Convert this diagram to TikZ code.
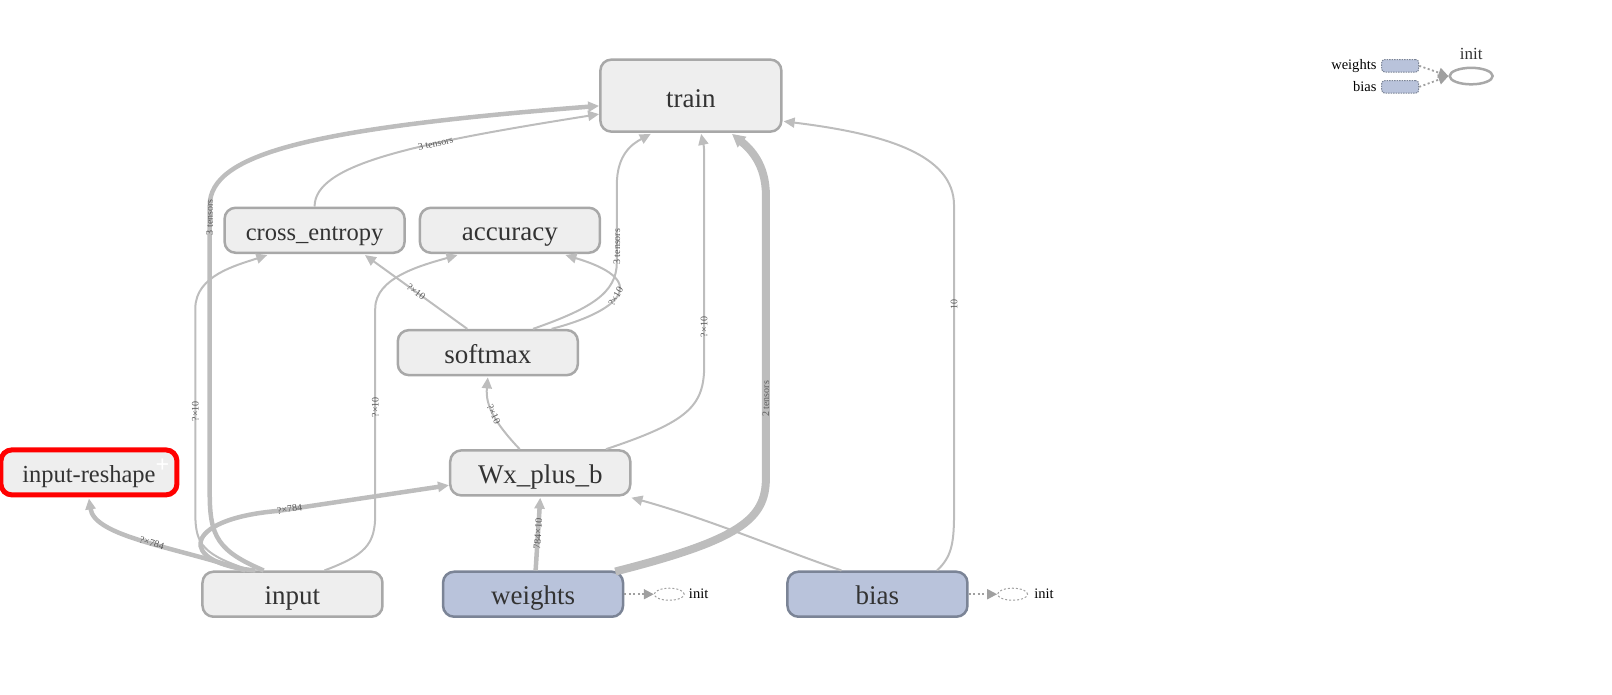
\documentclass[tikz,border=0pt]{standalone}
\usepackage{fontspec}
\setmainfont{Liberation Serif}
\usetikzlibrary{arrows.meta,calc,shapes.geometric}
\definecolor{edgec}{HTML}{BDBDBD}
\definecolor{nodefill}{HTML}{EEEEEE}
\definecolor{nodeline}{HTML}{A8A8A8}
\definecolor{txt}{HTML}{333333}
\definecolor{varfill}{HTML}{B9C3DB}
\definecolor{varline}{HTML}{7B8496}
\definecolor{lbl}{HTML}{5A5A5A}
\definecolor{dotc}{HTML}{A0A0A0}
\begin{document}
\begin{tikzpicture}[x=1.028pt,y=-1.028pt,
  opnode/.style={draw=nodeline, fill=nodefill, line width=2.5pt, rounded corners=11pt,
    minimum width=180pt, minimum height=45pt, inner sep=0pt, text height=21pt, text depth=0pt,
    font=\fontsize{27}{29}\selectfont, text=txt},
  varnode/.style={opnode, draw=varline, fill=varfill},
  flow/.style={draw=edgec, line width=2pt, -{Triangle[length=11pt,width=10pt]}},
  thickflow/.style={flow, line width=4.5pt},
  heavyflow/.style={flow, line width=8pt, -{Triangle[length=13pt,width=13pt]}},
  elabel/.style={font=\fontsize{10}{10}\selectfont, text=lbl, sloped, inner sep=1pt},
  initell/.style={ellipse, draw=dotc, dash pattern=on 2pt off 2pt, line width=1pt,
    minimum width=30pt, minimum height=12pt, inner sep=0pt},
  dotarrow/.style={draw=dotc, line width=1.8pt, dash pattern=on 2pt off 2.5pt,
    -{Triangle[length=10pt,width=10pt]}},
  smalltext/.style={font=\fontsize{14.5}{14.5}\selectfont, text=black, inner sep=1pt},
  legrect/.style={draw=varline, fill=varfill, dash pattern=on 1.5pt off 1pt, line width=1pt,
    rounded corners=3pt, minimum width=37pt, minimum height=12.5pt, inner sep=0pt}
]
\useasboundingbox (0,0) rectangle (1568,676);

% nodes
\node[opnode, minimum width=181pt, minimum height=72pt, text height=24pt] (train) at (672,93) {train};
\node[opnode, font=\fontsize{24.5}{26}\selectfont] (crossentropy) at (306,224) {cross\_entropy};
\node[opnode] (accuracy) at (496,224) {accuracy};
\node[opnode] (softmax) at (474.5,343) {softmax};
\node[opnode] (wxplusb) at (525.5,460) {Wx\_plus\_b};
\node[opnode, draw=red, line width=5pt, minimum width=176pt, font=\fontsize{24.5}{26}\selectfont] (inputreshape) at (86.5,459.5) {input-reshape};
\node[font=\bfseries\fontsize{24}{24}\selectfont, text=white, inner sep=0pt] (plus) at (158,453) {+};
\node[opnode] (input) at (284.5,578) {input};
\node[varnode] (weights) at (518.5,578) {weights};
\node[varnode] (bias) at (853.5,578) {bias};

% init nodes
\node[initell] (winit) at (651,578) {};
\node[smalltext, anchor=west] (winitt) at (669,578) {init};
\node[initell] (binit) at (985,578) {};
\node[smalltext, anchor=west] (binitt) at (1005,578) {init};

% legend
\node[legrect] (lw) at (1362,64) {};
\node[legrect] (lb) at (1362,84.5) {};
\node[smalltext, anchor=east] (lwt) at (1340,64) {weights};
\node[smalltext, anchor=east] (lbt) at (1340,84.5) {bias};
\node[ellipse, draw=nodeline, line width=2.5pt, minimum width=43pt, minimum height=16.5pt, inner sep=0pt] (linit) at (1431,74) {};
\node[font=\fontsize{17}{17}\selectfont, text=txt] (linitt) at (1431,52) {init};

% edges from input
\draw[thickflow] ($(input.north)+(-46,0)$) .. controls (170,532) and (92,522) .. node[elabel, pos=0.45]{?×784} ($(inputreshape.south)+(0,1)$);
\draw[thickflow] ($(input.north)+(-36,0)$) .. controls (172,548) and (176,505) .. (270,497) -- node[elabel, pos=0.07]{?×784} ($(wxplusb.west)+(0,12)$);
\draw[thickflow] ($(input.north)+(-28,0)$) .. controls (212,536) and (204,522) .. (204,480) -- node[elabel, pos=0.96]{3 tensors} (204,200) .. controls (204,150) and (300,125) .. ($(train.west)+(0,10)$);
\draw[flow] ($(input.north)+(-40,0)$) .. controls (198,540) and (190,530) .. (190,500) -- node[elabel]{?×10} (190,300) .. controls (190,268) and (230,258) .. ($(crossentropy.south)+(-46,1)$);
\draw[flow] ($(input.north)+(31,0)$) .. controls (355,540) and (365,530) .. (365,500) -- node[elabel, pos=0.52]{?×10} (365,300) .. controls (365,270) and (410,258) .. ($(accuracy.south)+(-51,1)$);

% other edges
\draw[flow] (crossentropy.north) .. controls (306,160) and (400,140) .. node[elabel, pos=0.65]{3 tensors} ($(train.west)+(0,18)$);
\draw[flow] ($(softmax.north)+(-20,0)$) -- node[elabel]{?×10} ($(crossentropy.south)+(49,1)$);
\draw[flow] ($(softmax.north)+(62,0)$) .. controls (595,305) and (640,275) .. node[elabel, pos=0.5]{?×10} ($(accuracy.south)+(54,1)$);
\draw[flow] ($(softmax.north)+(44,0)$) .. controls (575,300) and (600,285) .. (600,255) -- node[elabel, pos=0.2]{3 tensors} (600,180) .. controls (600,150) and (615,140) .. ($(train.south)+(-39,1)$);
\draw[flow] ($(wxplusb.north)+(-20,0)$) .. controls (482,412) and (472,395) .. node[elabel]{?×10} ($(softmax.south)+(0,1)$);
\draw[flow] ($(wxplusb.north)+(64,0)$) .. controls (670,410) and (685,395) .. (685,355) -- node[elabel, pos=0.18]{?×10} (685,150) .. controls (685,140) and (683,135) .. ($(train.south)+(10,1)$);
\draw[thickflow] ($(weights.north)+(2.5,0)$) -- node[elabel]{784×10} ($(wxplusb.south)+(0,1)$);
\draw[heavyflow] ($(weights.north)+(80,1)$) .. controls (720,525) and (745,505) .. (745,465) -- node[elabel, pos=0.28]{2 tensors} (745,190) .. controls (745,160) and (730,145) .. ($(train.south)+(40,1)$);
\draw[flow] ($(bias.north)+(-35,0)$) .. controls (760,535) and (690,505) .. ($(wxplusb.south east)+(0,1)$);
\draw[flow] ($(bias.north)+(58,0)$) .. controls (925,542) and (928,530) .. (928,500) -- node[elabel, pos=0.68]{10} (928,200) .. controls (928,150) and (860,130) .. ($(train.east)+(1,25)$);

% init arrows
\draw[dotarrow] (weights.east) -- (winit.west);
\draw[dotarrow] (bias.east) -- (binit.west);
\draw[dotarrow] (lw.east) -- (linit.west);
\draw[dotarrow] (lb.east) -- (linit.west);
\end{tikzpicture}
\end{document}
